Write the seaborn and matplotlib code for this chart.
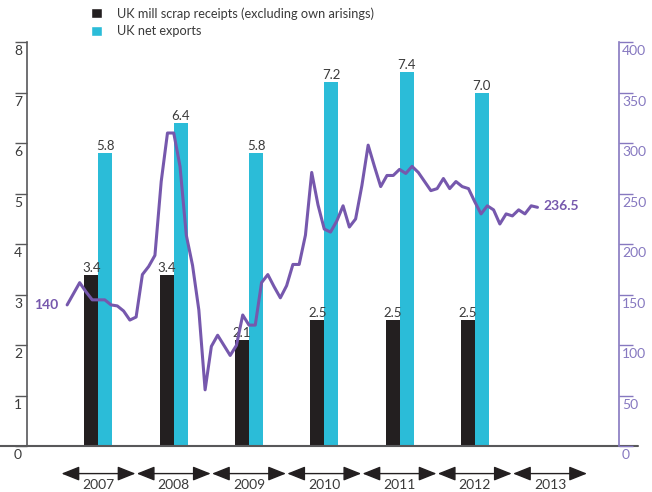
import numpy as np
import pandas as pd
import seaborn as sns
import matplotlib.pyplot as plt
from matplotlib.patches import Patch
from matplotlib.transforms import offset_copy

# Dados anuais (barras, eixo esquerdo, milhoes de toneladas)
years = [2007, 2008, 2009, 2010, 2011, 2012]
mill_receipts = [3.4, 3.4, 2.1, 2.5, 2.5, 2.5]
net_exports = [5.8, 6.4, 5.8, 7.2, 7.4, 7.0]

# Anos do eixo x (setas)
axis_years = [2007, 2008, 2009, 2010, 2011, 2012, 2013]

# Serie mensal (linha, eixo direito), a partir de fev/2007
price_start = 1
price = [140, 151, 162, 153, 145, 145, 145, 140, 139, 134, 125, 128,
         170, 178, 189, 262, 310, 310, 277, 209, 179, 135, 56, 99,
         110, 100, 90, 100, 130, 120, 120, 162, 170, 158, 147, 159,
         180, 180, 209, 271, 239, 215, 212, 223, 238, 217, 225, 258,
         298, 277, 257, 268, 268, 274, 270, 277, 271, 262, 253, 255,
         265, 255, 262, 257, 255, 242, 230, 238, 234, 220, 230, 228,
         234, 230, 238, 236.5]

left_ticks = [0, 1, 2, 3, 4, 5, 6, 7, 8]
right_ticks = [0, 50, 100, 150, 200, 250, 300, 350, 400]

BLACK = '#231f20'
CYAN = '#2bbcd8'
PURPLE = '#7658ad'
PURPLE_AXIS = '#8678c0'
GREY = '#58585a'
TEXT = '#3a3a3a'

sns.set_style('white')
plt.rcParams['font.family'] = ['Lato', 'DejaVu Sans']

fig = plt.figure(figsize=(6.52, 4.92), dpi=100)
ax = fig.add_axes([27 / 652, 1 - 450.5 / 492, 592 / 652, 408.5 / 492])

# Barras
bar_w = 14 / 6.27  # largura de uma barra em meses
df = pd.DataFrame({
    'month': [12 * (y - 2007) + 6 for y in years] * 2,
    'value': mill_receipts + net_exports,
    'series': ['mill'] * len(years) + ['exports'] * len(years),
})
sns.barplot(data=df, x='month', y='value', hue='series', native_scale=True,
            palette={'mill': BLACK, 'exports': CYAN}, saturation=1,
            width=2 * bar_w / 12, dodge=True, gap=0, linewidth=0,
            legend=False, ax=ax)

for y, a, b in zip(years, mill_receipts, net_exports):
    c = 12 * (y - 2007) + 6
    ax.text(c - bar_w / 2, a + 0.02, f'{a:.1f}', ha='center', va='bottom',
            fontsize=9.5, color=TEXT)
    ax.text(c + bar_w / 2, b + 0.02, f'{b:.1f}', ha='center', va='bottom',
            fontsize=9.5, color=TEXT)

ax.set_xlim(-5.4, 89)
ax.set_ylim(-0.08, 8)
ax.set_xlabel('')
ax.set_ylabel('')

# Linha (eixo direito)
ax2 = ax.twinx()
months = np.arange(len(price)) + price_start
sns.lineplot(x=months, y=price, ax=ax2, color=PURPLE, linewidth=2.2)
ax2.set_ylim(-4, 400)
ax2.set_xlim(-5.4, 89)
ax2.set_ylabel('')

ax2.text(months[0] - 1.4, price[0], '140', ha='right', va='center',
         fontsize=10, fontweight='bold', color=PURPLE)
ax2.text(months[-1] + 0.9, price[-1] + 1, '236.5', ha='left', va='center',
         fontsize=10, fontweight='bold', color=PURPLE)

# Eixos
for s in ['top', 'right', 'bottom']:
    ax.spines[s].set_visible(False)
ax.spines['left'].set_bounds(0, 8)
ax.spines['left'].set_color(GREY)
ax.spines['left'].set_linewidth(1.2)
for s in ['top', 'left', 'bottom']:
    ax2.spines[s].set_visible(False)
ax2.spines['right'].set_bounds(0, 400)
ax2.spines['right'].set_color(PURPLE_AXIS)
ax2.spines['right'].set_linewidth(1.2)

ax.set_yticks(left_ticks)
ax.tick_params(axis='y', direction='out', length=9, width=1, color=GREY,
               labelleft=False)
ax2.set_yticks(right_ticks)
ax2.tick_params(axis='y', direction='out', length=10, width=1,
                color=PURPLE_AXIS, labelright=False)

lt = offset_copy(ax.get_yaxis_transform(), fig=fig, x=-9, y=-3, units='dots')
for v in left_ticks:
    ax.text(0, v, str(v), transform=lt, ha='center', va='top',
            fontsize=10, color=TEXT)
rt = offset_copy(ax2.get_yaxis_transform(), fig=fig, x=3, y=-3, units='dots')
for v in right_ticks:
    ax2.text(1, v, str(v), transform=rt, ha='left', va='top',
             fontsize=10, color=PURPLE_AXIS)

# Ticks mensais
ax.set_xticks(range(0, 85, 3))
ax.set_xticks(range(0, 85), minor=True)
ax.tick_params(axis='x', which='major', direction='out', length=8, width=1,
               color=GREY, labelbottom=False)
ax.tick_params(axis='x', which='minor', direction='out', length=4.5, width=1,
               color=GREY)

# Linha de base
ax.axhline(0, xmin=-27 / 592, xmax=611 / 592, color=GREY, lw=1.5,
           clip_on=False, zorder=3)

# Setas dos anos
for i, yr in enumerate(axis_years):
    s = 12 * i
    ax.annotate('', xy=(s + 0.1, -0.0565), xytext=(s + 11.9, -0.0565),
                xycoords=('data', 'axes fraction'),
                arrowprops=dict(arrowstyle='<|-|>,head_length=1.0,head_width=0.4',
                                color=BLACK, lw=1, mutation_scale=11,
                                shrinkA=0, shrinkB=0))
    ax.text(s + 6, -0.084, str(yr), transform=ax.get_xaxis_transform(),
            ha='center', va='center', fontsize=10, color=TEXT)

# Legenda
handles = [Patch(facecolor=BLACK), Patch(facecolor=CYAN)]
labels = ['UK mill scrap receipts (excluding own arisings)', 'UK net exports']
fig.legend(handles, labels, loc='upper left', bbox_to_anchor=(91 / 652, 1 - 7 / 492),
           frameon=False, handlelength=0.85, handleheight=0.85,
           handletextpad=1.2, labelspacing=0.45, borderpad=0, borderaxespad=0,
           fontsize=9.2, labelcolor=TEXT)

fig.savefig('out.png', dpi=100)
